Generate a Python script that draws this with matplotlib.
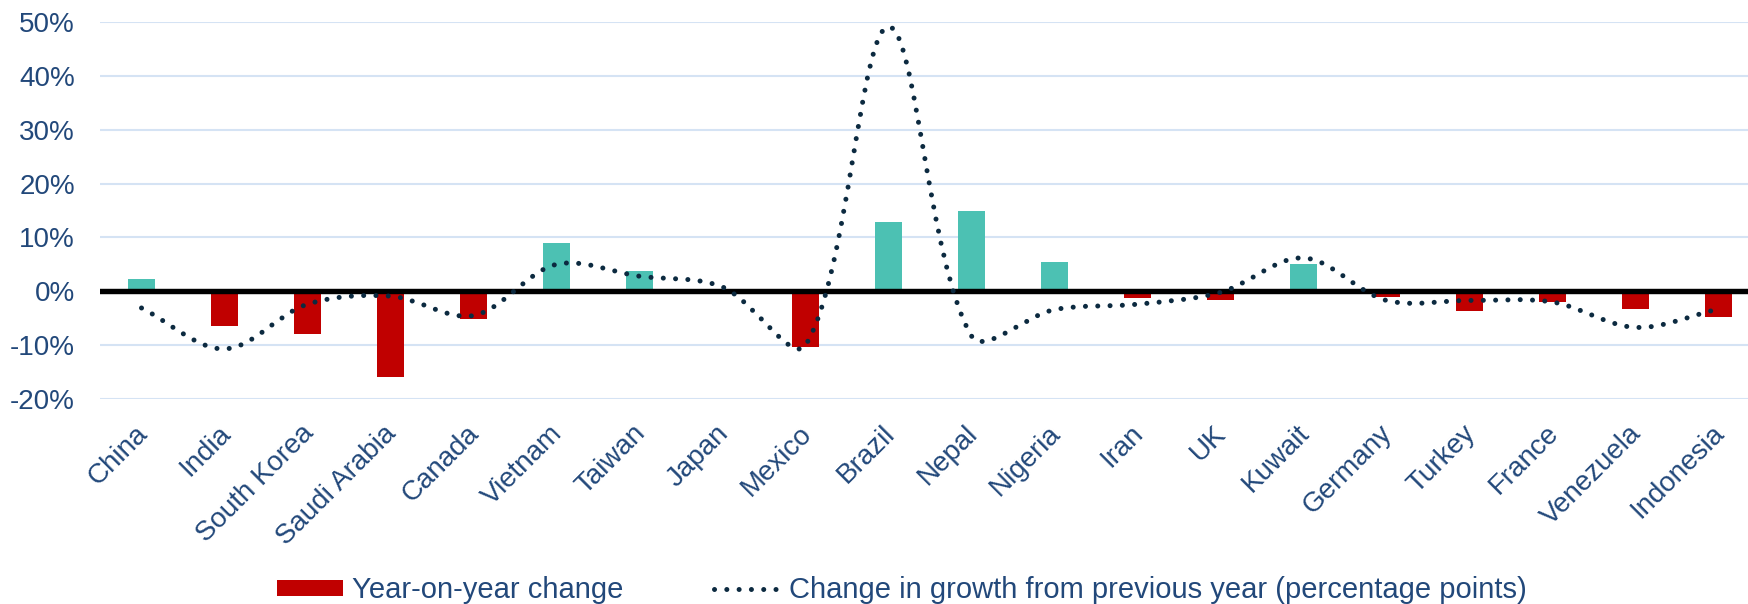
import matplotlib
matplotlib.use("Agg")
import matplotlib.pyplot as plt
import numpy as np
from matplotlib.path import Path
from matplotlib.patches import PathPatch, Patch
from matplotlib.lines import Line2D
from matplotlib.transforms import ScaledTranslation

plt.rcParams['font.family'] = ['Liberation Sans', 'DejaVu Sans']

# ---------------- data ----------------
countries = ["China", "India", "South Korea", "Saudi Arabia", "Canada", "Vietnam",
             "Taiwan", "Japan", "Mexico", "Brazil", "Nepal", "Nigeria", "Iran", "UK",
             "Kuwait", "Germany", "Turkey", "France", "Venezuela", "Indonesia"]
yoy_change = [2.3, -6.4, -7.9, -16.0, -5.2, 8.9, 3.8, 0.0, -10.4, 12.8,
              15.0, 5.4, -1.2, -1.6, 5.0, -1.0, -3.7, -1.9, -3.2, -4.8]
growth_change = [-3.1, -10.7, -2.4, -0.9, -4.5, 5.0, 2.8, 0.8, -10.0, 49.1,
                 -8.3, -3.4, -2.4, -0.2, 6.2, -1.7, -1.7, -2.0, -6.7, -3.3]
y_ticks = [-20, -10, 0, 10, 20, 30, 40, 50]
legend_labels = ["Year-on-year change", "Change in growth from previous year (percentage points)"]

# ---------------- style ----------------
TEAL = "#4CC1B3"
RED = "#C00000"
NAVY = "#0C2A40"
TXT = "#22487A"
GRID = "#D5E3F4"

W, H = 1748, 604
fig = plt.figure(figsize=(W / 100, H / 100), dpi=100)
ax_left, ax_right, ax_top, ax_bot = 100, 1748, 22, 399
ax = fig.add_axes([ax_left / W, 1 - ax_bot / H, (ax_right - ax_left) / W, (ax_bot - ax_top) / H])

n = len(countries)
x = np.arange(n)
spacing_px = 83.0
ax.set_xlim(-0.5, -0.5 + (ax_right - ax_left) / spacing_px)
ax.set_ylim(-20, 50)

# grid
for t in y_ticks:
    if t != 0:
        ax.axhline(t, color=GRID, lw=1.5, zorder=0)

# bars
colors = [TEAL if v >= 0 else RED for v in yoy_change]
ax.bar(x, yoy_change, width=0.32, color=colors, zorder=2)

# zero line
ax.axhline(0, color="black", lw=3.9, zorder=3)

# smoothed (Excel-like Bezier) line
px_per_x = spacing_px
px_per_y = (ax_bot - ax_top) / 70.0
P = np.column_stack([x.astype(float), np.array(growth_change, float)])
def dist(a, b):
    return np.hypot((a[0] - b[0]) * px_per_x, (a[1] - b[1]) * px_per_y)
verts = [tuple(P[0])]
codes = [Path.MOVETO]
for i in range(n - 1):
    p0 = P[i - 1] if i > 0 else P[i]
    p1 = P[i]
    p2 = P[i + 1]
    p3 = P[i + 2] if i + 2 < n else P[i + 1]
    d01, d12, d23 = dist(p0, p1), dist(p1, p2), dist(p2, p3)
    f1 = d12 / (d01 + d12) / 3.0 if (d01 + d12) > 0 else 0
    f2 = d12 / (d12 + d23) / 3.0 if (d12 + d23) > 0 else 0
    c1 = p1 + (p2 - p0) * f1
    c2 = p2 - (p3 - p1) * f2
    verts += [tuple(c1), tuple(c2), tuple(p2)]
    codes += [Path.CURVE4] * 3
dot_ls = (0, (0.01, 2.45))
LW = 3.6
path = Path(verts, codes)
ax.add_patch(PathPatch(path, fill=False, edgecolor=NAVY, lw=LW,
                       linestyle=dot_ls, capstyle='round', zorder=4))

# axes styling
for s in ax.spines.values():
    s.set_visible(False)
ax.set_yticks(y_ticks)
ax.set_yticklabels([f"{t}%" for t in y_ticks])
ax.tick_params(axis='y', length=0, pad=18, labelsize=20, labelcolor=TXT)
ax.set_xticks(x)
ax.set_xticklabels(countries, rotation=45, ha='right', va='center', rotation_mode='anchor')
ax.tick_params(axis='x', length=0, pad=22, labelsize=20, labelcolor=TXT)
off = ScaledTranslation(2 / 100, 0, fig.dpi_scale_trans)
for lab in ax.get_xticklabels():
    lab.set_transform(lab.get_transform() + off)

# legend
handles = [Patch(facecolor=RED, edgecolor='none'),
           Line2D([0], [0], color=NAVY, lw=LW, linestyle=dot_ls, dash_capstyle='round')]
fig.legend(handles, legend_labels, loc='center left', bbox_to_anchor=(277 / W, 1 - 590 / H),
           ncol=2, frameon=False, fontsize=21, labelcolor=TXT, borderpad=0, borderaxespad=0,
           handlelength=2.27, handleheight=0.48, handletextpad=0.3, columnspacing=3.1)

fig.savefig("out.png", dpi=100)
